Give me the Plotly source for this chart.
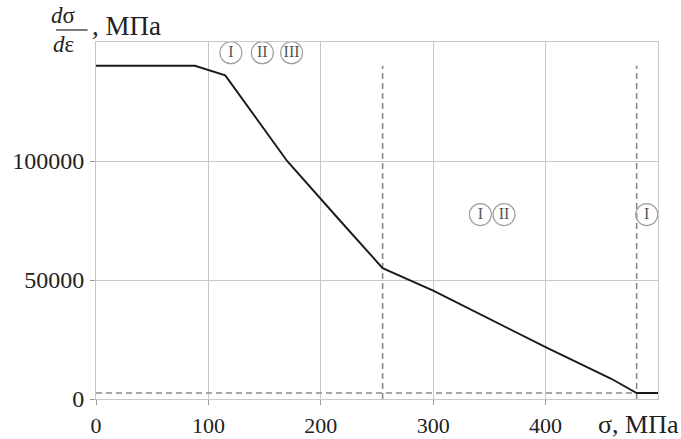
import plotly.graph_objects as go

# Curve data: stress sigma (MPa) vs tangent modulus dσ/dε (MPa)
sigma = [0, 88, 115, 170, 217, 255, 300, 350, 400, 458, 481, 500]
modulus = [140000, 140000, 136000, 100000, 75000, 55000, 45500, 33500, 21800, 8600, 2500, 2500]

# Dashed reference lines
v1_x = [255, 255]
v2_x = [481, 481]
v_y = [0, 140000]
h_x = [0, 481]
h_y = [2500, 2500]

# Region labels (Roman numerals)
lab_text = ["I", "II", "III", "I", "II", "I"]
lab_x = [120, 148, 174, 342, 363, 490]
lab_y = [145500, 145500, 145500, 77500, 77500, 77500]

x_ticks = [0, 100, 200, 300, 400]
y_ticks = [0, 50000, 100000]

FONT = "Liberation Serif"
GRID = "#c8c8c8"
DASH = "#8a8a8a"
TXT = "#222"

fig = go.Figure()
for xs, ys in [(h_x, h_y), (v1_x, v_y), (v2_x, v_y)]:
    fig.add_trace(go.Scatter(x=xs, y=ys, mode="lines",
                             line=dict(color=DASH, width=1.6, dash="6px,4px"),
                             hoverinfo="skip"))
fig.add_trace(go.Scatter(x=sigma, y=modulus, mode="lines",
                         line=dict(color="#1a1a1a", width=1.9)))
fig.add_trace(go.Scatter(x=lab_x, y=lab_y, mode="markers+text", text=lab_text,
                         textposition="middle center",
                         textfont=dict(family=FONT, size=16, color="#555"),
                         marker=dict(symbol="circle-open", size=22,
                                     color="#a0a0a0", line=dict(width=1.2)),
                         hoverinfo="skip"))

fig.update_layout(
    width=681, height=439,
    margin=dict(l=96, r=23, t=42, b=40),
    plot_bgcolor="white", paper_bgcolor="white",
    showlegend=False,
    font=dict(family=FONT, size=24, color=TXT),
    xaxis=dict(range=[0, 500], tickvals=x_ticks, showgrid=True, gridcolor=GRID,
               gridwidth=1, zeroline=False, showline=True, linecolor=GRID,
               mirror=True, ticks="outside", ticklen=5, tickcolor="#999",
               ticklabelstandoff=2, automargin=False,
               tickfont=dict(family=FONT, size=22, color=TXT)),
    yaxis=dict(range=[0, 150000], tickvals=y_ticks, showgrid=True, gridcolor=GRID,
               gridwidth=1, zeroline=False, showline=True, linecolor=GRID,
               mirror=True, ticks="outside", ticklen=5, tickcolor="#999",
               tickformat="d", ticklabelstandoff=1, automargin=False,
               tickfont=dict(family=FONT, size=24, color=TXT)),
)

# Y-axis title as fraction dσ/dε, МПа
PH = 357.0
BAR = 1.0 + 12 / PH
fig.add_annotation(xref="paper", yref="paper", x=-0.057, y=BAR + 1 / PH,
                   text="<i>d</i>σ", showarrow=False, xanchor="center", yanchor="bottom",
                   borderpad=0, font=dict(family=FONT, size=23, color=TXT))
fig.add_annotation(xref="paper", yref="paper", x=-0.057, y=BAR - 1 / PH,
                   text="<i>d</i>ε", showarrow=False, xanchor="center", yanchor="top",
                   borderpad=0, font=dict(family=FONT, size=23, color=TXT))
fig.add_shape(type="line", xref="paper", yref="paper", x0=-0.0710, x1=-0.0150,
              y0=BAR, y1=BAR, line=dict(color=TXT, width=1.2))
fig.add_annotation(xref="paper", yref="paper", x=-0.011, y=1.0 + 16 / PH,
                   text=", МПа", showarrow=False, xanchor="left", yanchor="middle",
                   font=dict(family=FONT, size=27, color=TXT))
# X-axis title at right end
fig.add_annotation(xref="paper", yref="paper", x=1.041, y=-25 / PH,
                   text="σ, МПа", showarrow=False, xanchor="right", yanchor="middle",
                   font=dict(family=FONT, size=26, color=TXT))

fig.write_html("out.html")
